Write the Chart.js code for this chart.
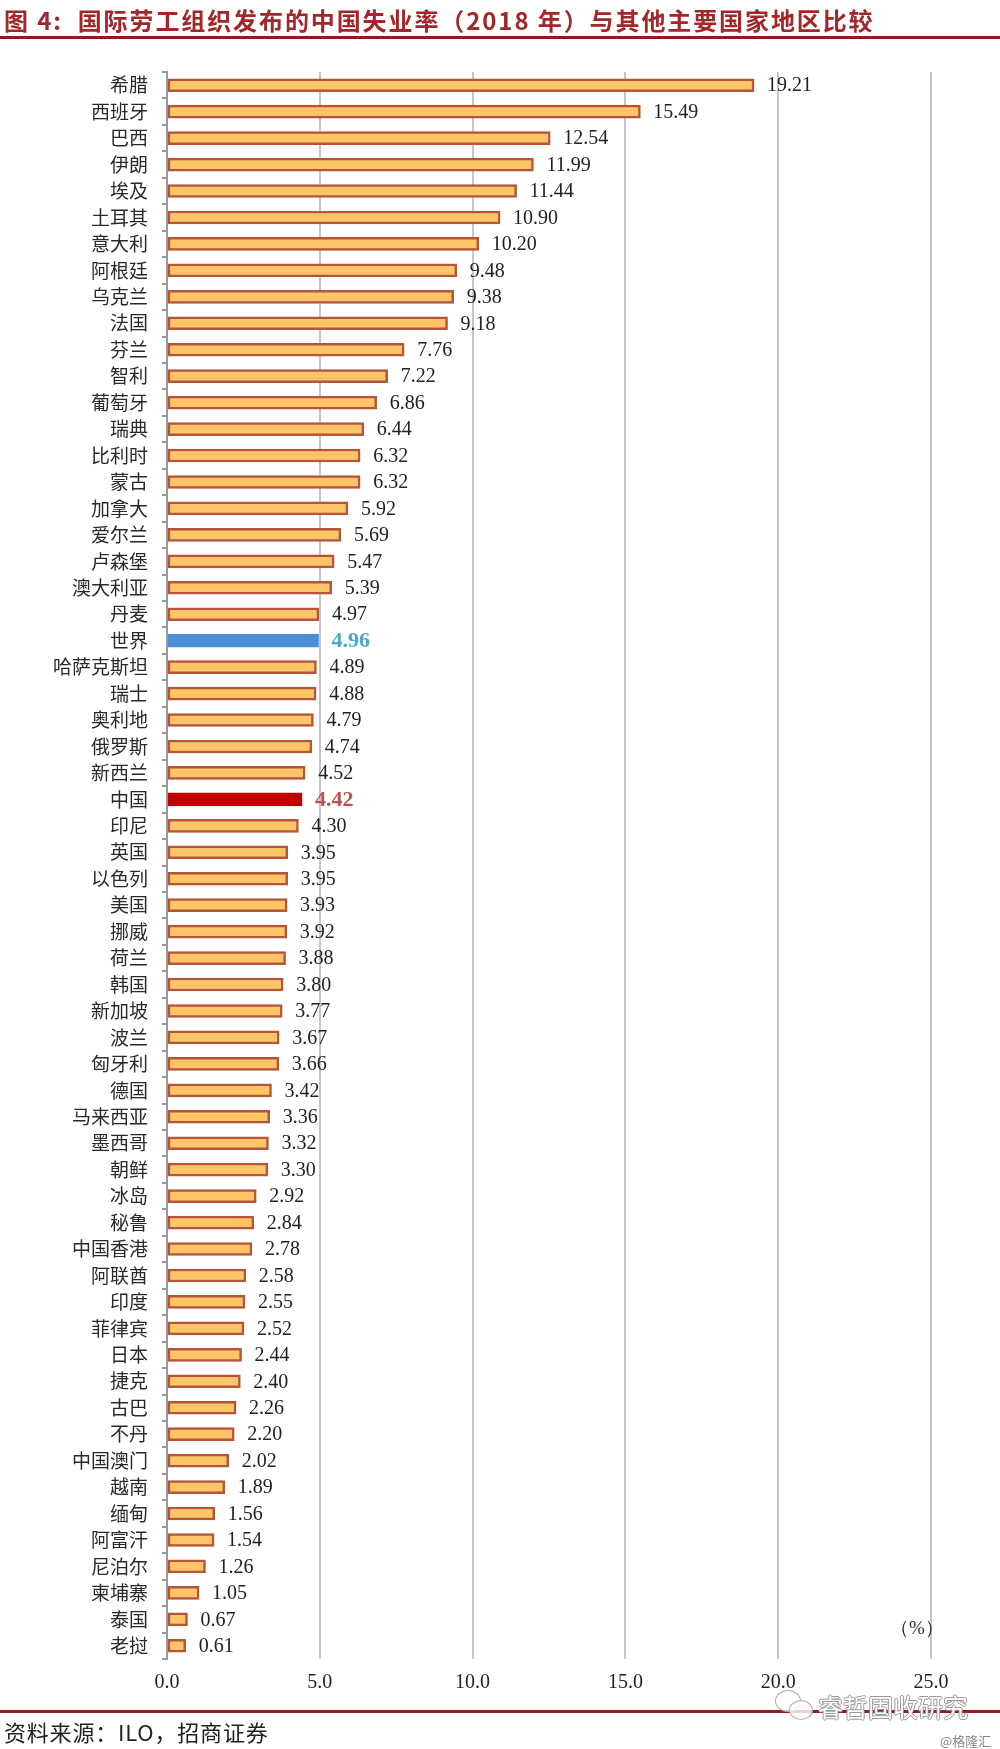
<!DOCTYPE html>
<html>
<head>
<meta charset="utf-8">
<script src="https://cdn.jsdelivr.net/npm/chart.js@4.4.0/dist/chart.umd.min.js"></script>
<style>
  body { margin: 0; background: #fff; }
  #wrap { position: relative; width: 1000px; height: 1749px; overflow: hidden; }
  #chart { position: absolute; left: 0; top: 0; }
  .title { position: absolute; left: 4px; top: 2px; font-family: "Noto Sans CJK SC", sans-serif; font-weight: bold; font-size: 24px; color: #a2272b; white-space: nowrap; letter-spacing: 1.9px; }
  .rule { position: absolute; left: 0; width: 1000px; height: 3px; background: #8e1b1f; }
  .source { position: absolute; left: 4px; top: 1715px; font-family: "Noto Sans CJK SC", sans-serif; font-size: 22px; color: #222; white-space: nowrap; letter-spacing: 0.8px; }
  .unit { position: absolute; left: 890px; top: 1615px; font-family: "Liberation Serif", serif; font-size: 19px; color: #333; }
  .mark { position: absolute; left: 818px; top: 1688px; font-family: "Noto Sans CJK SC", sans-serif; font-size: 25px; color: #fff; white-space: nowrap;
          text-shadow: -1px 0 #999, 1px 0 #999, 0 -1px #999, 0 1px #999; }
  .bub { position: absolute; border: 1.5px solid #aaa; border-radius: 50%; background: rgba(255,255,255,0.8); }
  .mark2 { position: absolute; left: 940px; top: 1731px; font-family: "Noto Sans CJK SC", sans-serif; font-size: 13px; color: #888; white-space: nowrap; }
</style>
</head>
<body>
<div id="wrap">
  <canvas id="chart" width="1000" height="1749"></canvas>
  <div class="title">图 4:&nbsp; 国际劳工组织发布的中国失业率（2018 年）与其他主要国家地区比较</div>
  <div class="rule" style="top:36px"></div>
  <div class="unit">（%）</div>
  <div class="rule" style="top:1710px"></div>
  <div class="source">资料来源：ILO，招商证券</div>
  <div class="bub" style="left:775px;top:1690px;width:24px;height:20px"></div>
  <div class="bub" style="left:789px;top:1700px;width:22px;height:18px"></div>
  <div class="mark">睿哲固收研究</div>
  <div class="mark2">@格隆汇</div>
</div>
<script>
var countries = ['希腊','西班牙','巴西','伊朗','埃及','土耳其','意大利','阿根廷','乌克兰','法国',
  '芬兰','智利','葡萄牙','瑞典','比利时','蒙古','加拿大','爱尔兰','卢森堡','澳大利亚',
  '丹麦','世界','哈萨克斯坦','瑞士','奥利地','俄罗斯','新西兰','中国','印尼','英国',
  '以色列','美国','挪威','荷兰','韩国','新加坡','波兰','匈牙利','德国','马来西亚',
  '墨西哥','朝鲜','冰岛','秘鲁','中国香港','阿联酋','印度','菲律宾','日本','捷克',
  '古巴','不丹','中国澳门','越南','缅甸','阿富汗','尼泊尔','柬埔寨','泰国','老挝'];

var rates = [19.21,15.49,12.54,11.99,11.44,10.90,10.20,9.48,9.38,9.18,
  7.76,7.22,6.86,6.44,6.32,6.32,5.92,5.69,5.47,5.39,
  4.97,4.96,4.89,4.88,4.79,4.74,4.52,4.42,4.30,3.95,
  3.95,3.93,3.92,3.88,3.80,3.77,3.67,3.66,3.42,3.36,
  3.32,3.30,2.92,2.84,2.78,2.58,2.55,2.52,2.44,2.40,
  2.26,2.20,2.02,1.89,1.56,1.54,1.26,1.05,0.67,0.61];

var xTicks = [0, 5, 10, 15, 20, 25];

var ORANGE = '#fdc468', ORANGE_EDGE = '#b5553a';
var WORLD = '#4d8fd6', CHINA = '#c00000';

var fills = countries.map(function(c){ return c === '世界' ? WORLD : (c === '中国' ? CHINA : ORANGE); });
var edges = countries.map(function(c){ return c === '世界' ? WORLD : (c === '中国' ? CHINA : ORANGE_EDGE); });

// value labels next to each bar end
var valueLabels = {
  id: 'valueLabels',
  afterDatasetsDraw: function(chart) {
    var ctx = chart.ctx;
    var meta = chart.getDatasetMeta(0);
    ctx.save();
    ctx.textBaseline = 'middle';
    ctx.textAlign = 'left';
    meta.data.forEach(function(bar, i) {
      var c = countries[i];
      if (c === '世界') {
        ctx.font = 'bold 22px "Liberation Serif"';
        ctx.fillStyle = '#4aa8c8';
      } else if (c === '中国') {
        ctx.font = 'bold 22px "Liberation Serif"';
        ctx.fillStyle = '#c0504d';
      } else {
        ctx.font = '20px "Liberation Serif"';
        ctx.fillStyle = '#222';
      }
      ctx.fillText(rates[i].toFixed(2), bar.x + 13, bar.y + 1);
    });
    ctx.restore();
  }
};

var ctx = document.getElementById('chart');
var chart = new Chart(ctx, {
  type: 'bar',
  data: {
    labels: countries,
    datasets: [{
      data: rates,
      backgroundColor: fills,
      borderColor: edges,
      borderWidth: 2.5,
      borderSkipped: false,
      barThickness: 13
    }]
  },
  options: {
    indexAxis: 'y',
    responsive: false,
    animation: false,
    devicePixelRatio: 1,
    layout: { padding: { top: 72, bottom: 50, left: 0, right: 69 } },
    plugins: { legend: { display: false }, tooltip: { enabled: false } },
    scales: {
      x: {
        min: 0, max: 25,
        afterFit: function(scale){ scale.height = 40; },
        afterBuildTicks: function(scale){ scale.ticks = xTicks.map(function(v){ return { value: v }; }); },
        grid: { color: '#c6c6c6', lineWidth: 2, drawTicks: false },
        border: { display: false },
        ticks: {
          padding: 12,
          color: '#222',
          font: { family: 'Liberation Serif', size: 20 },
          callback: function(v){ return Number(v).toFixed(1); }
        }
      },
      y: {
        afterFit: function(scale){ scale.width = 167; },
        grid: { drawOnChartArea: false, drawTicks: true, tickLength: 5, color: '#9a9a9a', lineWidth: 2, offset: true },
        border: { display: true, color: '#9a9a9a', width: 2 },
        ticks: {
          padding: 14,
          autoSkip: false,
          color: '#2a2a2a',
          font: { family: 'Noto Sans CJK SC', size: 19 }
        }
      }
    }
  },
  plugins: [valueLabels]
});
</script>
</body>
</html>
